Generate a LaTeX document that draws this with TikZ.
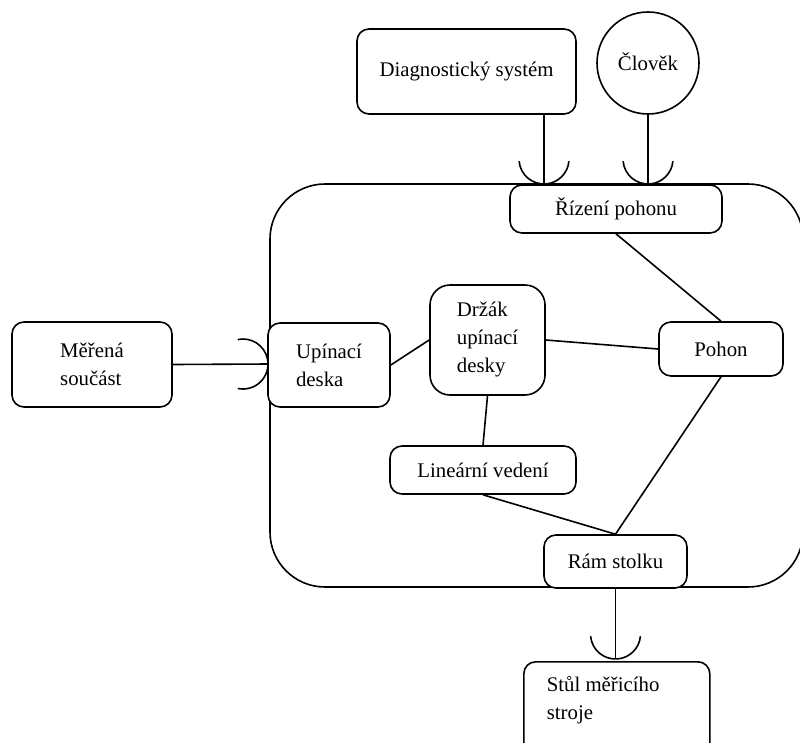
\documentclass[tikz,border=0pt]{standalone}
\usepackage{fontspec}
\setmainfont{Liberation Serif}
\newfontfamily\tnrfont{Liberation Serif}
\usetikzlibrary{calc}
\begin{document}
\begin{tikzpicture}[x=1pt,y=-1pt, line width=1.6pt,
  txt/.style={font=\tnrfont\fontsize{20.8}{28}\selectfont},
  box/.style={draw, rounded corners=12pt, fill=white, txt, inner sep=0pt, align=center},
  lbox/.style={box, align=left},
  conn/.style={draw},
  sock/.style={draw}]
\useasboundingbox (0,0) rectangle (800,742);
\clip (0,0) rectangle (800,742);

% system boundary
\draw[rounded corners=55pt] (270,184) rectangle (803,587);

% outside elements
\node[box, minimum width=219, minimum height=85] (diag) at (466.5,71.5) {\raisebox{4pt}{Diagnostický systém}};
\node[draw, circle, fill=white, txt, minimum size=102, inner sep=0pt] (clovek) at (648,63) {\raisebox{3pt}{Člověk}};
\node[lbox, minimum width=160, minimum height=85] (merena) at (92,364.5) {Měřená\\součást};
\node[box, anchor=north west, minimum width=186, minimum height=100] (stul) at (523,661) {};
\node[txt, align=left, anchor=west, inner sep=0pt] (stultext) at (546,700) {Stůl měřicího\\stroje};

% inner elements
\node[box, minimum width=212, minimum height=48] (rizeni) at (616,209) {Řízení pohonu};
\node[lbox, minimum width=122, minimum height=84] (upinaci) at (329,365) {Upínací\\deska};
\node[lbox, rounded corners=20pt, minimum width=115, minimum height=110] (drzak) at (487.5,340) {Držák\\upínací\\desky};
\node[box, minimum width=124, minimum height=54] (pohon) at (721,349) {Pohon};
\node[box, minimum width=186, minimum height=48] (linear) at (483,470) {Lineární vedení};
\node[box, minimum width=143, minimum height=53] (ram) at (615.5,561.5) {Rám stolku};

% socket points
\coordinate (s1) at (544,184);
\coordinate (s2) at (648,184);
\coordinate (s3) at (268,364);
\coordinate (s4) at (615.5,659);

% connectors to sockets
\draw[conn] (diag.south -| s1) -- (s1);
\draw[conn] (clovek.south) -- (s2);
\draw[conn] (merena.east) -- (s3);
\draw[conn] (ram.south) -- (s4);

% sockets (cups)
\draw[sock] (s1) ++(0,-25) ++(185:25pt) arc[start angle=185, end angle=355, radius=25pt];
\draw[sock] (s2) ++(0,-25) ++(185:25pt) arc[start angle=185, end angle=355, radius=25pt];
\draw[sock] (s4) ++(0,-25) ++(185:25pt) arc[start angle=185, end angle=355, radius=25pt];
\draw[sock] (s3) ++(-25,0) ++(102:25pt) arc[start angle=102, end angle=-102, radius=25pt];

% inner connectors
\draw[conn] (upinaci.east) -- (drzak.west);
\draw[conn] (drzak.east) -- (pohon.west);
\draw[conn] (rizeni.south) -- (pohon.north);
\draw[conn] (drzak.south) -- (linear.north);
\draw[conn] (pohon.south) -- (ram.north);
\draw[conn] (linear.south) -- (ram.north);
\end{tikzpicture}
\end{document}
